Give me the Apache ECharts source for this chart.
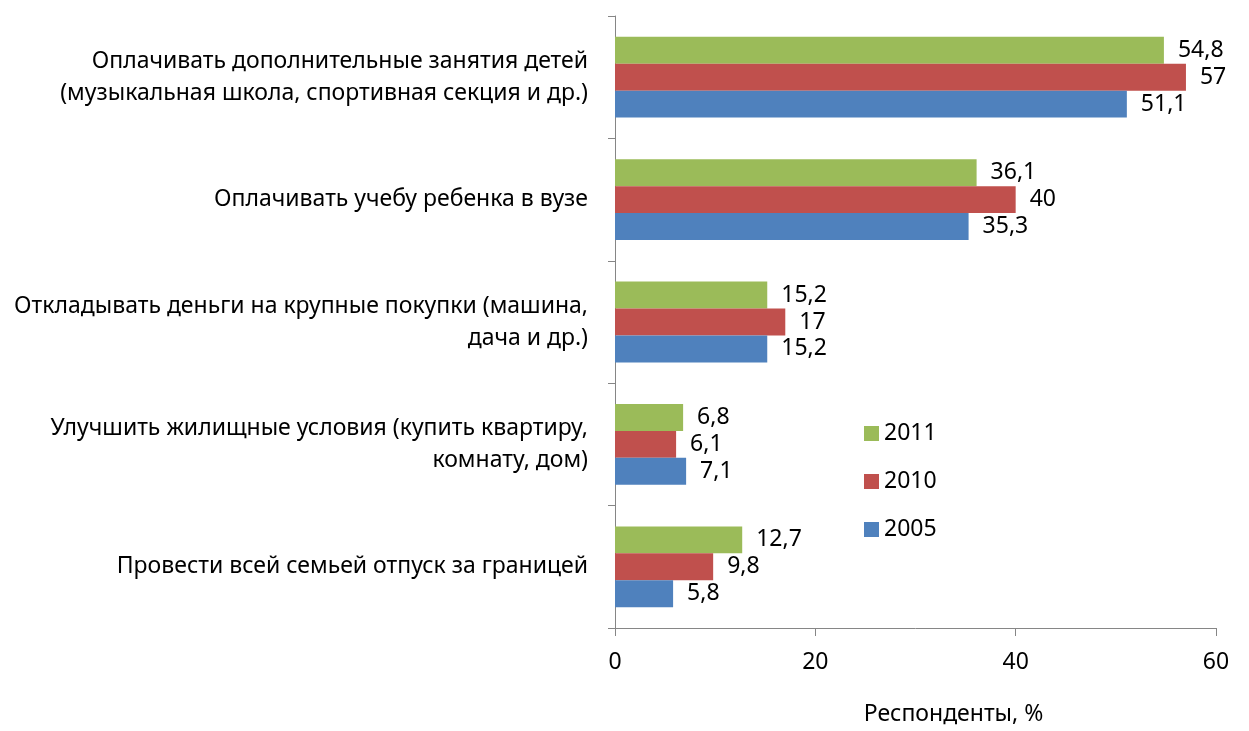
<!DOCTYPE html>
<html><head><meta charset="utf-8">
<script src="https://cdn.jsdelivr.net/npm/echarts@6/dist/echarts.min.js"></script>
<style>html,body{margin:0;padding:0;background:#fff}#c{width:1249px;height:731px}</style>
</head><body><div id="c"></div>
<script>
const categories = [
  "Оплачивать дополнительные занятия детей\n(музыкальная школа, спортивная секция и др.)",
  "Оплачивать учебу ребенка в вузе",
  "Откладывать деньги на крупные покупки (машина,\nдача и др.)",
  "Улучшить жилищные условия (купить квартиру,\nкомнату, дом)",
  "Провести всей семьей отпуск за границей"
];
const seriesNames = ["2011", "2010", "2005"];
const values2011 = [54.8, 36.1, 15.2, 6.8, 12.7];
const values2010 = [57, 40, 17, 6.1, 9.8];
const values2005 = [51.1, 35.3, 15.2, 7.1, 5.8];
const xTicks = [0, 20, 40, 60];
const colors = ["#9BBB59", "#C0504D", "#4F81BD"];

const FONT = "Noto Sans";
const chart = echarts.init(document.getElementById('c'), null, {renderer: 'canvas'});
const mk = (name, data, color) => ({
  name, type: 'bar', data,
  barGap: '0%', barCategoryGap: '34%',
  itemStyle: {color},
  label: {show: true, position: 'right', distance: 14, color: '#000', fontFamily: FONT, fontSize: 23,
    formatter: p => String(p.value).replace('.', ',')}
});
chart.setOption({
  animation: false,
  textStyle: {fontFamily: FONT},
  grid: {left: 615, right: 33, top: 16, bottom: 98, containLabel: false},
  legend: {
    data: seriesNames, orient: 'vertical', left: 859, top: 417,
    itemWidth: 15, itemHeight: 15, itemGap: 25, itemTextGap: 6, icon: 'rect',
    textStyle: {fontFamily: FONT, fontSize: 23, lineHeight: 23, color: '#000'}
  },
  xAxis: {
    type: 'value', min: xTicks[0], max: xTicks[xTicks.length-1], interval: 20,
    axisLine: {show: true, lineStyle: {color: '#868686', width: 1}},
    axisTick: {show: true, length: 8, lineStyle: {color: '#868686'}},
    splitLine: {show: false},
    axisLabel: {margin: 23, color: '#000', fontFamily: FONT, fontSize: 23},
    name: 'Респонденты, %', nameLocation: 'middle', nameGap: 75,
    nameTextStyle: {color: '#000', fontFamily: FONT, fontSize: 23, padding: [0, 0, 0, 76]}
  },
  yAxis: {
    type: 'category', data: categories, inverse: true,
    axisLine: {show: true, lineStyle: {color: '#868686', width: 1}},
    axisTick: {show: true, length: 7, lineStyle: {color: '#868686'}},
    axisLabel: {margin: 27, color: '#000', fontFamily: FONT, fontSize: 23, lineHeight: 32, align: 'right'}
  },
  series: [
    mk(seriesNames[0], values2011, colors[0]),
    mk(seriesNames[1], values2010, colors[1]),
    mk(seriesNames[2], values2005, colors[2])
  ]
});
</script></body></html>
